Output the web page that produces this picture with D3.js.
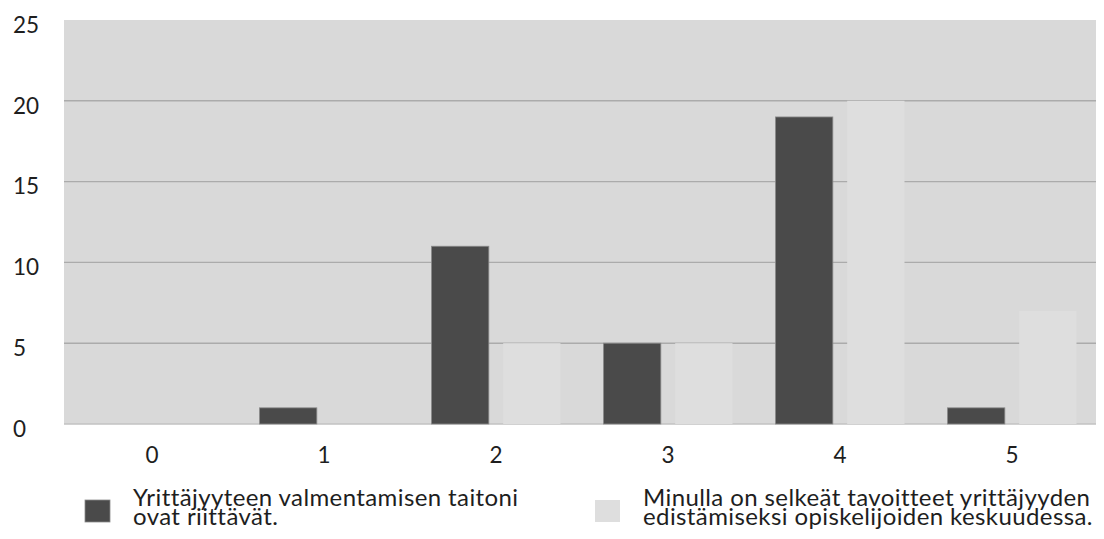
<!DOCTYPE html>
<html>
<head>
<meta charset="utf-8">
<script src="https://cdn.jsdelivr.net/npm/d3@7"></script>
<style>
  html, body { margin: 0; padding: 0; background: #ffffff; }
  svg { display: block; }
  text { font-family: Lato, "Open Sans", sans-serif; fill: #1e1e1e; }
</style>
</head>
<body>
<svg id="chart" width="1104" height="539"></svg>
<script>
// Answer scale (0–5) and the count of respondents for each statement
const categories = ["0", "1", "2", "3", "4", "5"];
const seriesNames = [
  "Yrittäjyyteen valmentamisen taitoni ovat riittävät.",
  "Minulla on selkeät tavoitteet yrittäjyyden edistämiseksi opiskelijoiden keskuudessa."
];
const skillsValues = [0, 1, 11, 5, 19, 1];
const goalsValues = [0, 0, 5, 5, 20, 7];
const yTicks = [0, 5, 10, 15, 20, 25];
const legendLines = [
  ["Yrittäjyyteen valmentamisen taitoni", "ovat riittävät."],
  ["Minulla on selkeät tavoitteet yrittäjyyden", "edistämiseksi opiskelijoiden keskuudessa."]
];

const colors = ["#4a4a4a", "#dedede"];
const series = [skillsValues, goalsValues];

const svg = d3.select("#chart");
const plot = { left: 64, right: 1096, top: 20, bottom: 424 };

const y = d3.scaleLinear().domain([0, 25]).range([plot.bottom, plot.top]);
const x0 = d3.scaleBand().domain(categories).range([66, 1098]).padding(0);
const x1 = d3.scaleBand().domain(d3.range(series.length))
  .range([21.5, x0.bandwidth() - 21.5]).paddingInner(0.2).paddingOuter(0);

// Plot background
svg.append("rect")
  .attr("x", plot.left).attr("y", y(25))
  .attr("width", plot.right - plot.left).attr("height", y(0) - y(25))
  .attr("fill", "#d9d9d9");

// Horizontal gridlines
svg.append("g")
  .selectAll("line")
  .data(yTicks.filter(t => t > 0 && t < 25))
  .join("line")
  .attr("x1", plot.left).attr("x2", plot.right)
  .attr("y1", d => y(d)).attr("y2", d => y(d))
  .attr("stroke", "#ababab").attr("stroke-width", 1.4);

// Baseline
svg.append("line")
  .attr("x1", plot.left).attr("x2", plot.right)
  .attr("y1", y(0)).attr("y2", y(0))
  .attr("stroke", "#c2c2c2").attr("stroke-width", 1.4);

// Bars
const groups = svg.append("g")
  .selectAll("g")
  .data(categories)
  .join("g")
  .attr("transform", d => `translate(${x0(d)},0)`);

groups.selectAll("rect")
  .data((d, i) => series.map((s, si) => ({ si, v: s[i] })).filter(e => e.v > 0))
  .join("rect")
  .attr("x", d => x1(d.si))
  .attr("width", x1.bandwidth())
  .attr("y", d => y(d.v))
  .attr("height", d => y(0) - y(d.v))
  .attr("fill", d => colors[d.si])
  .attr("stroke", d => d.si === 0 ? "#8a8a8a" : "none")
  .attr("stroke-width", 0.8);

// Y axis labels
const yAxis = svg.append("g")
  .attr("transform", "translate(13,0)")
  .call(d3.axisLeft(y).tickValues(yTicks).tickSize(0).tickPadding(0));
yAxis.select(".domain").remove();
yAxis.selectAll("text")
  .attr("text-anchor", "start")
  .attr("x", 0)
  .attr("dy", "0.55em")
  .style("font-size", "22.5px")
  .style("font-family", "Lato, 'Open Sans', sans-serif")
  .attr("fill", "#1e1e1e");

// X axis labels
const xAxis = svg.append("g")
  .attr("transform", `translate(0,${plot.bottom})`)
  .call(d3.axisBottom(x0).tickSize(0).tickPadding(0));
xAxis.select(".domain").remove();
xAxis.selectAll("text")
  .attr("y", 38.5)
  .attr("dy", 0)
  .style("font-size", "22.5px")
  .style("font-family", "Lato, 'Open Sans', sans-serif")
  .attr("fill", "#1e1e1e");

// Legend
const legendX = [85, 595];
const legend = svg.append("g")
  .selectAll("g")
  .data(seriesNames)
  .join("g")
  .attr("transform", (d, i) => `translate(${legendX[i]},0)`);

legend.append("rect")
  .attr("x", 0).attr("y", 500)
  .attr("width", 25).attr("height", 22)
  .attr("fill", (d, i) => colors[i])
  .attr("stroke", (d, i) => i === 0 ? "#8a8a8a" : "none")
  .attr("stroke-width", 0.8);

legend.append("text")
  .attr("x", 48)
  .style("font-size", "24px")
  .style("letter-spacing", "0.4px")
  .selectAll("tspan")
  .data((d, i) => legendLines[i])
  .join("tspan")
  .attr("x", 48)
  .attr("y", (d, j) => 506 + j * 19)
  .text(d => d);
</script>
</body>
</html>
